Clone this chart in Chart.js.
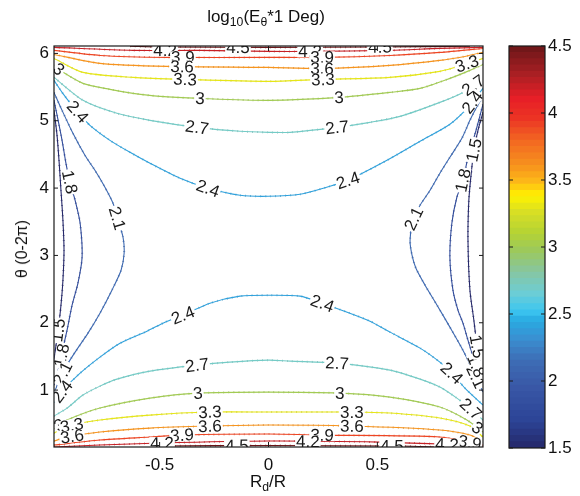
<!DOCTYPE html>
<html>
<head>
<title>log10(E_theta*1 Deg) contour</title>
<script src="https://cdn.jsdelivr.net/npm/chart.js"></script>
<style>
  body { margin: 0; background: #fff; }
  #wrap { position: relative; width: 580px; height: 496px; font-family: 'Liberation Sans', Arial, sans-serif; color: #111; }
  #main { position: absolute; left: 0; top: 0; }
  #cbar { position: absolute; left: 500px; top: 0; }
  .lbl { position: absolute; font-size: 17px; line-height: 18px; white-space: nowrap; }
  .lbl sub { font-size: 0.72em; vertical-align: -0.35em; line-height: 0; }
  #title { left: 0; width: 532px; top: 8px; text-align: center; }
  #xlab { left: 0; width: 536px; top: 473px; text-align: center; }
  #ylab { left: 22px; top: 249px; font-size: 16px; transform: translate(-50%, -50%) rotate(-90deg); }
</style>
</head>
<body>
<div id="wrap">
  <canvas id="main" width="580" height="496"></canvas>
  <canvas id="cbar" width="80" height="496"></canvas>
  <div class="lbl" id="title">log<sub>10</sub>(E<sub>&theta;</sub>*1 Deg)</div>
  <div class="lbl" id="xlab">R<sub>d</sub>/R</div>
  <div class="lbl" id="ylab">&theta; (0-2&pi;)</div>
</div>

<script>
// axis ticks
const xTicks = [-0.5, 0, 0.5];
const yTicks = [1, 2, 3, 4, 5, 6];
const cbarTicks = [1.5, 2, 2.5, 3, 3.5, 4, 4.5];

// contour lines, [R_d/R, theta]
const lev45Top = [[-0.636,6.107],[-0.498,6.096],[0,6.089],[0.512,6.096],[0.925,6.107]];
const lev45Bot = [[-0.544,0.155],[-0.498,0.169],[0,0.177],[0.604,0.169],[0.787,0.155]];
const lev42Top = [[-0.985,6.089],[-0.622,6.045],[-0.315,6.045],[0,6.030],[0.191,6.030],[0.558,6.045],[0.787,6.074],[0.985,6.089]];
const lev42Bot = [[-0.985,0.155],[-0.774,0.184],[-0.498,0.214],[0,0.243],[0.512,0.228],[0.787,0.199],[0.985,0.169]];
const lev39Top = [[-0.985,6.045],[-0.774,5.970],[-0.466,5.941],[0,5.941],[0.246,5.941],[0.558,5.970],[0.787,6.015],[0.985,6.074]];
const lev39Bot = [[-0.985,0.184],[-0.774,0.258],[-0.544,0.303],[-0.397,0.332],[0,0.347],[0.246,0.332],[0.787,0.303],[0.985,0.184]];
const lev36Top = [[-0.985,5.985],[-0.774,5.852],[-0.466,5.807],[0,5.792],[0.246,5.777],[0.558,5.822],[0.787,5.896],[0.902,5.955],[0.985,6.015]];
const lev36Bot = [[-0.985,0.243],[-0.925,0.303],[-0.774,0.377],[-0.544,0.436],[-0.269,0.466],[0,0.481],[0.383,0.466],[0.787,0.407],[0.925,0.332],[0.985,0.228]];
const lev33Top = [[-0.985,5.926],[-0.852,5.718],[-0.622,5.644],[-0.383,5.614],[0,5.585],[0.246,5.614],[0.558,5.644],[0.787,5.733],[0.902,5.837],[0.985,5.926]];
const lev33Bot = [[-0.985,0.362],[-0.925,0.466],[-0.774,0.555],[-0.544,0.629],[-0.269,0.674],[0,0.674],[0.383,0.674],[0.558,0.659],[0.787,0.585],[0.925,0.466],[0.985,0.303]];
const lev30Top = [[-0.985,5.822],[-0.957,5.748],[-0.852,5.555],[-0.728,5.466],[-0.622,5.407],[-0.498,5.362],[-0.315,5.332],[0,5.303],[0.328,5.347],[0.558,5.421],[0.696,5.481],[0.833,5.629],[0.925,5.748],[0.985,5.837]];
const lev30Bot = [[-0.985,0.436],[-0.925,0.555],[-0.774,0.733],[-0.544,0.881],[-0.324,0.955],[0,0.970],[0.328,0.955],[0.558,0.896],[0.787,0.748],[0.911,0.555],[0.985,0.377]];
const lev27Top = [[-0.985,5.644],[-0.852,5.303],[-0.696,5.110],[-0.544,5.006],[-0.328,4.902],[-0.131,4.843],[0,4.828],[0.099,4.828],[0.315,4.902],[0.466,4.976],[0.604,5.065],[0.787,5.273],[0.893,5.421],[0.985,5.629]];
const lev27Bot = [[-0.985,0.614],[-0.925,0.733],[-0.852,0.926],[-0.774,1.059],[-0.696,1.163],[-0.544,1.282],[-0.328,1.371],[-0.177,1.415],[0,1.445],[0.099,1.430],[0.315,1.401],[0.558,1.297],[0.696,1.163],[0.787,1.045],[0.865,0.881],[0.925,0.733],[0.985,0.555]];
const lev24Top = [[-0.985,5.599],[-0.948,5.421],[-0.902,5.228],[-0.865,5.095],[-0.820,4.932],[-0.728,4.709],[-0.636,4.531],[-0.544,4.368],[-0.406,4.145],[-0.278,3.997],[-0.131,3.893],[0,3.878],[0.145,3.908],[0.282,4.027],[0.365,4.116],[0.544,4.412],[0.696,4.694],[0.833,4.947],[0.925,5.228],[0.985,5.481]];
const lev24Bot = [[-0.985,0.822],[-0.944,1.000],[-0.865,1.252],[-0.774,1.490],[-0.682,1.697],[-0.558,1.875],[-0.475,2.009],[-0.393,2.113],[-0.269,2.291],[-0.131,2.395],[0,2.409],[0.145,2.395],[0.246,2.291],[0.374,2.142],[0.466,2.024],[0.558,1.861],[0.696,1.623],[0.787,1.415],[0.842,1.252],[0.902,1.030],[0.985,0.777]];
const lev21Left = [[-0.985,5.421],[-0.948,5.154],[-0.898,4.813],[-0.843,4.487],[-0.797,4.264],[-0.751,4.012],[-0.714,3.774],[-0.691,3.522],[-0.668,3.270],[-0.663,3.033],[-0.677,2.780],[-0.719,2.484],[-0.774,2.142],[-0.829,1.846],[-0.888,1.564],[-0.934,1.326],[-0.966,1.119],[-0.985,0.926]];
const lev21Right = [[0.985,5.362],[0.953,5.184],[0.925,5.006],[0.888,4.739],[0.833,4.457],[0.787,4.220],[0.742,3.967],[0.696,3.745],[0.663,3.522],[0.650,3.226],[0.659,3.003],[0.677,2.810],[0.719,2.558],[0.774,2.261],[0.833,1.935],[0.888,1.623],[0.934,1.326],[0.985,0.970]];
const lev18Left = [[-0.985,5.303],[-0.966,5.006],[-0.948,4.709],[-0.930,4.368],[-0.911,4.071],[-0.888,3.819],[-0.865,3.478],[-0.856,2.973],[-0.875,2.588],[-0.902,2.261],[-0.925,1.890],[-0.948,1.564],[-0.966,1.297],[-0.985,1.074]];
const lev18Right = [[0.985,5.243],[0.953,4.858],[0.916,4.457],[0.893,4.116],[0.865,3.864],[0.842,3.478],[0.833,2.973],[0.847,2.484],[0.870,2.187],[0.893,1.994],[0.916,1.742],[0.948,1.415],[0.985,1.119]];
const lev15Left = [[-0.985,5.154],[-0.971,4.783],[-0.962,4.412],[-0.953,3.967],[-0.944,3.522],[-0.939,3.077],[-0.944,2.632],[-0.953,2.261],[-0.966,1.890],[-0.980,1.564],[-0.985,1.371]];
const lev15Right = [[0.985,5.125],[0.962,4.858],[0.943,4.561],[0.930,4.190],[0.920,3.819],[0.916,3.226],[0.925,2.484],[0.943,2.039],[0.957,1.668],[0.971,1.415],[0.985,1.267]];

const contours = [
  [4.5, lev45Top], [4.5, lev45Bot], [4.2, lev42Top], [4.2, lev42Bot],
  [3.9, lev39Top], [3.9, lev39Bot], [3.6, lev36Top], [3.6, lev36Bot],
  [3.3, lev33Top], [3.3, lev33Bot], [3, lev30Top], [3, lev30Bot],
  [2.7, lev27Top], [2.7, lev27Bot], [2.4, lev24Top], [2.4, lev24Bot],
  [2.1, lev21Left], [2.1, lev21Right], [1.8, lev18Left], [1.8, lev18Right],
  [1.5, lev15Left], [1.5, lev15Right]
];

// inline labels: [level, R_d/R, theta] (snapped onto the line of that level)
const labelSpots = [
  [4.2,-0.475,6.045],[4.2,0.191,6.030],[4.5,-0.140,6.104],[4.5,0.512,6.104],
  [3.9,-0.393,5.970],[3.9,0.246,5.941],[3.6,-0.397,5.807],[3.6,0.246,5.777],
  [3.3,-0.383,5.614],[3.3,0.250,5.614],[3,-0.315,5.332],[3,0.324,5.347],
  [2.7,-0.328,4.902],[2.7,0.315,4.902],[2.4,-0.278,3.997],[2.4,0.365,4.116],
  [3,-0.957,5.792],[2.4,-0.879,5.125],[2.7,0.934,5.555],[2.4,0.925,5.303],[3.3,0.911,5.852],
  [1.5,0.948,4.561],[1.8,-0.920,4.086],[1.8,0.893,4.116],[2.1,-0.696,3.552],[2.1,0.663,3.552],
  [2.4,-0.393,2.113],[2.4,0.246,2.276],[2.7,-0.328,1.371],[2.7,0.315,1.401],
  [3,-0.324,0.955],[3,0.328,0.955],[3.3,-0.269,0.674],[3.3,0.383,0.674],
  [3.6,-0.269,0.466],[3.6,0.383,0.466],[3.9,-0.397,0.332],[3.9,0.246,0.332],
  [4.2,-0.489,0.214],[4.2,0.181,0.228],[4.5,-0.145,0.169],[4.5,0.567,0.169],
  [1.5,-0.971,1.890],[1.8,-0.957,1.519],[2.1,-0.948,1.252],[2.4,-0.944,0.970],
  [3,-0.966,0.510],[3.3,-0.902,0.451],[3.6,-0.902,0.303],
  [2.4,0.842,1.252],[2.1,0.948,1.193],[1.8,0.939,1.341],[1.5,0.939,1.638],
  [2.7,0.925,0.703],[3,0.962,0.451],[3.9,0.925,0.228],[4.2,0.820,0.214]
];

// jet-like colormap as printed
const cmapStops = [
  [1.5,'#25286a'],[1.7,'#2c4496'],[1.95,'#3957a6'],[2.15,'#3d6db5'],[2.3,'#3b8dcf'],
  [2.45,'#29abe2'],[2.52,'#3cc6f0'],[2.65,'#6ccdd6'],[2.8,'#85c6a5'],[2.97,'#9cc85c'],
  [3.1,'#b4d334'],[3.25,'#d6de26'],[3.38,'#fff200'],[3.48,'#fdba18'],[3.6,'#f7941d'],
  [3.8,'#f26522'],[3.95,'#ec3524'],[4.1,'#e81f27'],[4.3,'#a51f23'],[4.5,'#6a1618']
];

function hexRgb(h) {
  return [parseInt(h.slice(1,3),16), parseInt(h.slice(3,5),16), parseInt(h.slice(5,7),16)];
}
function cmap(v, k, alpha) {
  k = k || 1;
  alpha = alpha === undefined ? 1 : alpha;
  let i = 0;
  while (i < cmapStops.length - 2 && v > cmapStops[i+1][0]) i++;
  const [v0, c0] = cmapStops[i], [v1, c1] = cmapStops[i+1];
  const t = Math.max(0, Math.min(1, (v - v0) / (v1 - v0)));
  const a = hexRgb(c0), b = hexRgb(c1);
  const c = a.map((q, j) => Math.round((q + (b[j] - q) * t) * k));
  return `rgba(${c[0]},${c[1]},${c[2]},${alpha})`;
}

Chart.defaults.font.family = "'Liberation Sans', Arial, sans-serif";
Chart.defaults.font.size = 17;
Chart.defaults.color = '#111';

function nearestOnLevel(chart, level, px, py) {
  const sx = chart.scales.x, sy = chart.scales.y;
  let best = { d: Infinity };
  chart.data.datasets.forEach(ds => {
    if (ds.level !== level || ds.shade) return;
    const p = ds.data.map(d => [sx.getPixelForValue(d.x), sy.getPixelForValue(d.y)]);
    for (let i = 0; i < p.length - 1; i++) {
      const [x1, y1] = p[i], [x2, y2] = p[i+1];
      const dx = x2 - x1, dy = y2 - y1;
      let t = ((px - x1) * dx + (py - y1) * dy) / (dx * dx + dy * dy || 1);
      t = Math.max(0, Math.min(1, t));
      const qx = x1 + t * dx, qy = y1 + t * dy;
      const d = (qx - px) ** 2 + (qy - py) ** 2;
      if (d < best.d) best = { d, x: qx, y: qy, ang: Math.atan2(dy, dx) };
    }
  });
  return best;
}

const contourLabels = {
  id: 'contourLabels',
  afterDatasetsDraw(chart) {
    const { ctx, chartArea: a, scales } = chart;
    ctx.save();
    ctx.beginPath();
    ctx.rect(a.left, a.top, a.width, a.height);
    ctx.clip();
    ctx.font = "17px 'Liberation Sans', Arial, sans-serif";
    ctx.textAlign = 'center';
    ctx.textBaseline = 'middle';
    labelSpots.forEach(([lev, x, y]) => {
      const p = nearestOnLevel(chart, lev, scales.x.getPixelForValue(x), scales.y.getPixelForValue(y));
      if (!isFinite(p.d)) return;
      let ang = p.ang;
      if (ang > Math.PI / 2) ang -= Math.PI;
      if (ang < -Math.PI / 2) ang += Math.PI;
      const txt = String(lev);
      const w = ctx.measureText(txt).width;
      ctx.save();
      ctx.translate(p.x, p.y);
      ctx.rotate(ang);
      ctx.fillStyle = '#fff';
      ctx.fillRect(-w / 2 - 1, -6, w + 2, 12);
      ctx.fillStyle = '#1a1a1a';
      ctx.fillText(txt, 0, 1);
      ctx.restore();
    });
    ctx.restore();
  }
};

// box round the plot area with inward ticks, like the original
const boxTicks = {
  id: 'boxTicks',
  afterDraw(chart) {
    const { ctx, chartArea: a, scales } = chart;
    ctx.save();
    ctx.strokeStyle = '#1a1a1a';
    ctx.lineWidth = 1.2;
    ctx.strokeRect(a.left, a.top, a.width, a.height);
    ctx.lineWidth = 1;
    ctx.beginPath();
    if (scales.x.options.display) {
      scales.x.ticks.forEach(t => {
        const x = scales.x.getPixelForValue(t.value);
        ctx.moveTo(x, a.bottom); ctx.lineTo(x, a.bottom - 5);
        ctx.moveTo(x, a.top); ctx.lineTo(x, a.top + 5);
      });
    }
    scales.y.ticks.forEach(t => {
      const y = scales.y.getPixelForValue(t.value);
      ctx.moveTo(a.left, y); ctx.lineTo(a.left + 4, y);
      ctx.moveTo(a.right, y); ctx.lineTo(a.right - 4, y);
    });
    ctx.stroke();
    ctx.restore();
  }
};

const datasets = [];
contours.forEach(([lev, pts]) => {
  const data = pts.map(([x, y]) => ({ x, y }));
  datasets.push({
    level: lev, data, showLine: true, pointRadius: 0, borderWidth: 1.1,
    borderColor: cmap(lev), tension: 0.25, order: 0
  });
  datasets.push({
    level: lev, shade: true, data, showLine: true, pointRadius: 0, borderWidth: 2,
    borderColor: cmap(lev, 0.75, 0.55), borderDash: [1, 4], tension: 0.25, order: 1
  });
});

new Chart(document.getElementById('main'), {
  type: 'scatter',
  data: { datasets },
  options: {
    responsive: false,
    animation: false,
    layout: { padding: { left: 0, top: 46, right: 97, bottom: 0 } },
    plugins: { legend: { display: false }, tooltip: { enabled: false }, title: { display: false } },
    scales: {
      x: {
        type: 'linear', min: -0.985, max: 0.985,
        grid: { display: false, drawTicks: false }, border: { display: false },
        ticks: { padding: 8, callback: v => String(v) },
        afterBuildTicks: s => { s.ticks = xTicks.map(v => ({ value: v })); },
        afterFit: s => { s.height = 49; }
      },
      y: {
        type: 'linear', min: 0.155, max: 6.11,
        grid: { display: false, drawTicks: false }, border: { display: false },
        ticks: { padding: 5, callback: v => String(v) },
        afterBuildTicks: s => { s.ticks = yTicks.map(v => ({ value: v })); },
        afterFit: s => { s.width = 54; }
      }
    }
  },
  plugins: [contourLabels, boxTicks]
});

// colour bar: 64 bands over the colour range
const nBands = 64;
const bands = [];
for (let i = 0; i < nBands; i++) {
  const lo = 1.5 + 3 * i / nBands, hi = 1.5 + 3 * (i + 1) / nBands;
  bands.push({
    data: [[lo, hi]], backgroundColor: cmap((lo + hi) / 2), borderWidth: 0,
    grouped: false, barPercentage: 1, categoryPercentage: 1, inflateAmount: 0.4
  });
}

new Chart(document.getElementById('cbar'), {
  type: 'bar',
  data: { labels: [''], datasets: bands },
  options: {
    responsive: false,
    animation: false,
    layout: { padding: { left: 9, top: 46, right: 0, bottom: 48 } },
    plugins: { legend: { display: false }, tooltip: { enabled: false } },
    scales: {
      x: { display: false },
      y: {
        position: 'right', min: 1.5, max: 4.5,
        grid: { display: false, drawTicks: false }, border: { display: false },
        ticks: { padding: 3, callback: v => String(v) },
        afterBuildTicks: s => { s.ticks = cbarTicks.map(v => ({ value: v })); },
        afterFit: s => { s.width = 35; }
      }
    }
  },
  plugins: [boxTicks]
});
</script>
</body>
</html>
